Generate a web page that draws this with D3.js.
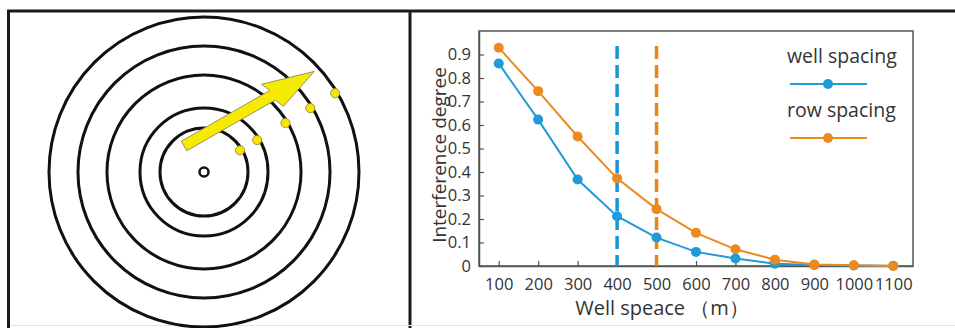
<!DOCTYPE html>
<html>
<head>
<meta charset="utf-8">
<script src="https://cdn.jsdelivr.net/npm/d3@7"></script>
<style>
  body { margin: 0; background: #fff; }
  text { font-family: "Open Sans", "Noto Sans", sans-serif; fill: #333; }
</style>
</head>
<body>
<div class="chart"></div>
<script>
// data
var spacing = [100, 200, 300, 400, 500, 600, 700, 800, 900, 1000, 1100];
var wellSpacing = [0.862, 0.623, 0.368, 0.212, 0.121, 0.06, 0.032, 0.01, 0.004, 0.002, 0.001];
var rowSpacing = [0.929, 0.744, 0.551, 0.373, 0.242, 0.141, 0.071, 0.027, 0.006, 0.003, 0.0];
var yTicks = [0, 0.1, 0.2, 0.3, 0.4, 0.5, 0.6, 0.7, 0.8, 0.9];
var markLines = [400, 500];
var seriesNames = ["well spacing", "row spacing"];
// rings of the left sketch, relative distance from the well
var rings = [0.284, 0.413, 0.626, 0.813, 1.0];
var ringAngle = 31; // degrees, where the yellow points sit

var w = 955;
var h = 328;
var blue = "#1f9bd7";
var orange = "#ec8a1e";

var svg = d3.select('.chart')
            .append('svg')
            .attr('width', w)
            .attr('height', h);

svg.append('rect').attr('width', w).attr('height', h).attr('fill', '#fff');

// frame
svg.append('path')
   .attr('d', 'M8.5,' + h + 'V11H' + w)
   .attr('fill', 'none')
   .attr('stroke', '#1e1a18')
   .attr('stroke-width', 3);
svg.append('line')
   .attr('x1', 410).attr('x2', 410).attr('y1', 11).attr('y2', h)
   .attr('stroke', '#1e1a18')
   .attr('stroke-width', 3);
svg.append('line')
   .attr('x1', 10).attr('x2', w).attr('y1', 325.5).attr('y2', 325.5)
   .attr('stroke', '#e4e4e4')
   .attr('stroke-width', 1);

// ---- left sketch ----
var cx = 204, cy = 172;
var rScale = d3.scaleLinear().domain([0, 1]).range([0, 155]);

var left = svg.append('g');

left.selectAll('circle.ring')
    .data(rings)
    .enter()
    .append('circle')
    .attr('class', 'ring')
    .attr('cx', cx)
    .attr('cy', cy)
    .attr('r', function(d) { return rScale(d); })
    .attr('fill', 'none')
    .attr('stroke', '#111')
    .attr('stroke-width', 3);

left.append('circle')
    .attr('cx', cx).attr('cy', cy).attr('r', 4.5)
    .attr('fill', '#fff')
    .attr('stroke', '#111')
    .attr('stroke-width', 2.5);

// arrow
var L = 150, H = 48, sw = 5.5, hw = 15;
var arrowPts = [[0, -sw], [L - H, -sw], [L - H - 4, -hw], [L, 0], [L - H + 4, hw], [L - H, sw], [0, sw]];
left.append('polygon')
    .attr('points', arrowPts.map(function(p) { return p.join(','); }).join(' '))
    .attr('transform', 'translate(184,146) rotate(-29.8)')
    .attr('fill', '#f6ea00')
    .attr('stroke', '#8a8660')
    .attr('stroke-width', 0.8);

var a = ringAngle * Math.PI / 180;
left.selectAll('circle.dot')
    .data(rings)
    .enter()
    .append('circle')
    .attr('class', 'dot')
    .attr('cx', function(d) { return cx + (rScale(d) - 2) * Math.cos(a); })
    .attr('cy', function(d) { return cy - (rScale(d) - 2) * Math.sin(a); })
    .attr('r', 4.6)
    .attr('fill', '#f6e600')
    .attr('stroke', '#8a8040')
    .attr('stroke-width', 0.8);

// ---- right chart ----
var x0 = 479, x1 = 913, y0 = 266, y1 = 31;

var xScale = d3.scaleLinear()
               .domain([50, 1150])
               .range([x0, x1]);

var yScale = d3.scaleLinear()
               .domain([0, 1.0])
               .range([y0, y1]);

var plot = svg.append('g');

plot.append('rect')
    .attr('x', x0).attr('y', y1)
    .attr('width', x1 - x0).attr('height', y0 - y1)
    .attr('fill', 'none')
    .attr('stroke', '#555')
    .attr('stroke-width', 1.5);

var xAxis = d3.axisBottom(xScale)
              .tickValues(spacing)
              .tickFormat(d3.format('d'))
              .tickSizeInner(-5)
              .tickSizeOuter(0)
              .tickPadding(12);

var yAxis = d3.axisLeft(yScale)
              .tickValues(yTicks)
              .tickFormat(function(d) { return d === 0 ? '0' : d3.format('.1f')(d); })
              .tickSizeInner(-5)
              .tickSizeOuter(0)
              .tickPadding(8);

var gx = plot.append('g')
             .attr('transform', 'translate(0,' + y0 + ')')
             .call(xAxis);
var gy = plot.append('g')
             .attr('transform', 'translate(' + x0 + ',0)')
             .call(yAxis);

[gx, gy].forEach(function(g) {
    g.select('.domain').attr('stroke', '#555').attr('stroke-width', 1.5);
    g.selectAll('.tick line').attr('stroke', '#555').attr('stroke-width', 1.2);
    g.selectAll('.tick text')
     .attr('font-family', '"Open Sans", sans-serif')
     .attr('font-size', '16.5px')
     .attr('fill', '#333');
});

// dashed marks
plot.selectAll('line.mark')
    .data(markLines)
    .enter()
    .append('line')
    .attr('class', 'mark')
    .attr('x1', function(d) { return xScale(d); })
    .attr('x2', function(d) { return xScale(d); })
    .attr('y1', 46)
    .attr('y2', y0)
    .attr('stroke', function(d, i) { return i === 0 ? '#1a96d8' : '#e8861a'; })
    .attr('stroke-width', 3.5)
    .attr('stroke-dasharray', '13,6');

var series = [
    { name: seriesNames[0], values: wellSpacing, color: blue },
    { name: seriesNames[1], values: rowSpacing, color: orange }
];

var line = d3.line()
             .x(function(d, i) { return xScale(spacing[i]); })
             .y(function(d) { return yScale(d); });

series.forEach(function(s) {
    plot.append('path')
        .datum(s.values)
        .attr('d', line)
        .attr('fill', 'none')
        .attr('stroke', s.color)
        .attr('stroke-width', 2);

    plot.selectAll(null)
        .data(s.values)
        .enter()
        .append('circle')
        .attr('cx', function(d, i) { return xScale(spacing[i]); })
        .attr('cy', function(d) { return yScale(d); })
        .attr('r', 5)
        .attr('fill', s.color);
});

// legend
var legend = plot.selectAll('g.legend')
                 .data(series)
                 .enter()
                 .append('g')
                 .attr('class', 'legend')
                 .attr('transform', function(d, i) { return 'translate(787,' + (63 + i * 54) + ')'; });

legend.append('text')
      .text(function(d) { return d.name; })
      .attr('x', 0)
      .attr('y', 0)
      .attr('font-size', '19.5px');

legend.append('line')
      .attr('x1', 3).attr('x2', 80)
      .attr('y1', 21).attr('y2', 21)
      .attr('stroke', function(d) { return d.color; })
      .attr('stroke-width', 1.8);

legend.append('circle')
      .attr('cx', 41).attr('cy', 21).attr('r', 5)
      .attr('fill', function(d) { return d.color; });

// axis titles
plot.append('text')
    .text('Interference degree')
    .attr('transform', 'translate(446,155) rotate(-90)')
    .attr('text-anchor', 'middle')
    .attr('font-size', '19px');

plot.append('text')
    .text('Well speace \uFF08m\uFF09')
    .attr('x', 662)
    .attr('y', 315)
    .attr('text-anchor', 'middle')
    .attr('font-size', '20px');
</script>
</body>
</html>
